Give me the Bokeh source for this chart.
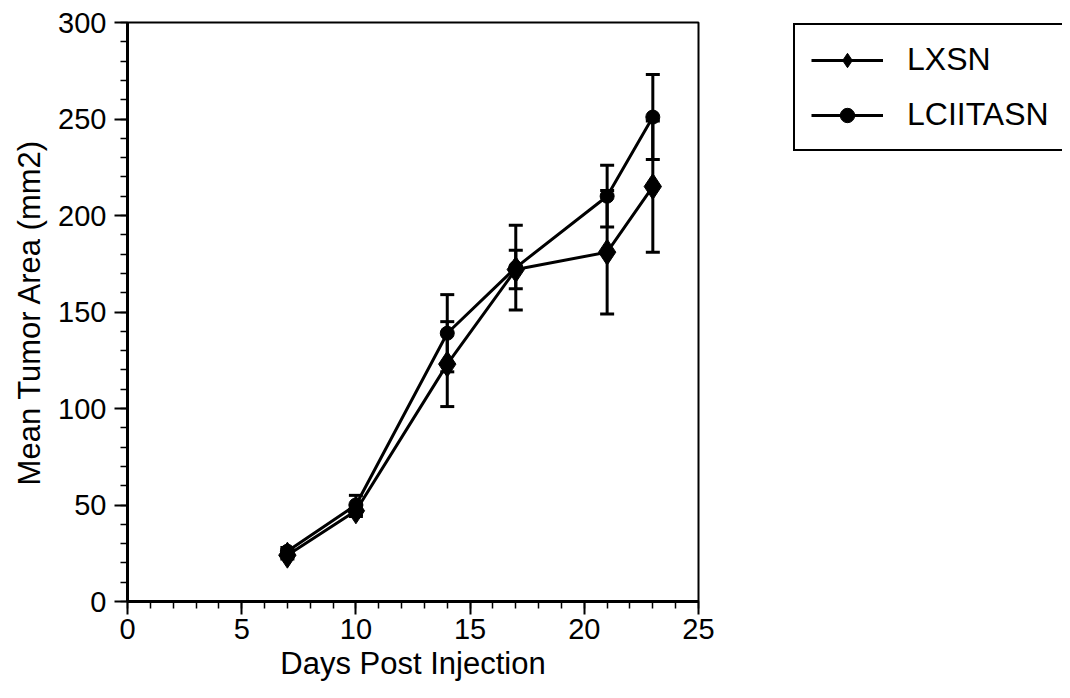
from bokeh.plotting import figure
from bokeh.models import (ColumnDataSource, Whisker, TeeHead, Legend, LegendItem,
                          SingleIntervalTicker, Range1d)
from bokeh.layouts import row
from bokeh.embed import file_html
from bokeh.resources import INLINE

# ---- data ----
days = [7, 10, 14, 17, 21, 23]
lxsn = [24, 47, 123, 172, 181, 215]
lxsn_err = [2, 3, 22, 10, 32, 34]
lciitasn = [26, 50, 139, 173, 210, 251]
lciitasn_err = [2, 5, 20, 22, 16, 22]
series_names = ["LXSN", "LCIITASN"]
x_label = "Days Post Injection"
y_label = "Mean Tumor Area (mm2)"

FONT = "Liberation Sans"

src_a = ColumnDataSource(dict(x=days, y=lxsn,
                              lo=[v - e for v, e in zip(lxsn, lxsn_err)],
                              hi=[v + e for v, e in zip(lxsn, lxsn_err)]))
src_b = ColumnDataSource(dict(x=days, y=lciitasn,
                              lo=[v - e for v, e in zip(lciitasn, lciitasn_err)],
                              hi=[v + e for v, e in zip(lciitasn, lciitasn_err)]))

MAIN_W = 740
TOTAL_W = 1062
H = 690

p = figure(width=MAIN_W, height=H, output_backend="svg", toolbar_location=None,
           x_range=Range1d(0, 25), y_range=Range1d(0, 300),
           min_border_left=127, min_border_right=MAIN_W - 698,
           min_border_top=22, min_border_bottom=89)

p.xgrid.visible = False
p.ygrid.visible = False
p.outline_line_color = "black"
p.outline_line_width = 2
p.background_fill_color = "white"
p.border_fill_color = "white"

# error bars
for src in (src_a, src_b):
    w = Whisker(source=src, base="x", lower="lo", upper="hi",
                line_color="black", line_width=3,
                upper_head=TeeHead(size=14, line_color="black", line_width=3),
                lower_head=TeeHead(size=14, line_color="black", line_width=3))
    p.add_layout(w)

line_kw = dict(line_color="black", line_width=3)
dia_kw = dict(marker="diamond", size=26, fill_color="black", line_color="black")
cir_kw = dict(marker="circle", size=14, fill_color="black", line_color="black")

p.line("x", "y", source=src_a, **line_kw)
p.scatter("x", "y", source=src_a, **dia_kw)
p.line("x", "y", source=src_b, **line_kw)
p.scatter("x", "y", source=src_b, **cir_kw)

# axes
p.xaxis.ticker = SingleIntervalTicker(interval=5, num_minor_ticks=5)
p.yaxis.ticker = SingleIntervalTicker(interval=50, num_minor_ticks=5)
for ax in (p.xaxis, p.yaxis):
    ax.axis_line_width = 3
    ax.axis_line_color = "black"
    ax.major_tick_line_width = 2
    ax.minor_tick_line_width = 1.5
    ax.major_tick_line_color = "black"
    ax.minor_tick_line_color = "black"
    ax.major_tick_out = 13
    ax.major_tick_in = 0
    ax.minor_tick_out = 7
    ax.minor_tick_in = 0
    ax.major_label_text_font = FONT
    ax.major_label_text_font_size = "29px"
    ax.major_label_text_color = "black"
    ax.axis_label_text_font = FONT
    ax.axis_label_text_font_size = "31px"
    ax.axis_label_text_font_style = "normal"
    ax.axis_label_text_color = "black"
p.xaxis.axis_label = x_label
p.yaxis.axis_label = y_label
p.xaxis.major_label_standoff = 4
p.yaxis.major_label_standoff = 8
p.xaxis.axis_label_standoff = 4
p.yaxis.axis_label_standoff = 8

# legend panel (separate figure to the right, same series styles)
q = figure(width=TOTAL_W - MAIN_W, height=H, output_backend="svg",
           toolbar_location=None, x_axis_type=None, y_axis_type=None,
           x_range=Range1d(0, 25), y_range=Range1d(1000, 1001),
           min_border_left=0, min_border_right=0, min_border_top=0,
           min_border_bottom=0)
q.outline_line_color = None
q.xgrid.visible = False
q.ygrid.visible = False
qa_l = q.line("x", "y", source=src_a, **line_kw)
qa_s = q.scatter("x", "y", source=src_a, **dia_kw)
qb_l = q.line("x", "y", source=src_b, **line_kw)
qb_s = q.scatter("x", "y", source=src_b, **cir_kw)

legend = Legend(items=[LegendItem(label=series_names[0], renderers=[qa_l, qa_s]),
                       LegendItem(label=series_names[1], renderers=[qb_l, qb_s])],
                location=(793 - MAIN_W, 450))
legend.label_text_font = FONT
legend.label_text_font_size = "32px"
legend.label_text_color = "black"
legend.glyph_width = 72
legend.glyph_height = 36
legend.spacing = 18
legend.padding = 16
legend.margin = 0
legend.label_standoff = 24
legend.border_line_color = "black"
legend.border_line_alpha = 1
legend.border_line_width = 2
legend.background_fill_alpha = 1
q.add_layout(legend, "center")

layout = row(p, q)
open("out.html", "w").write(file_html(layout, INLINE))
